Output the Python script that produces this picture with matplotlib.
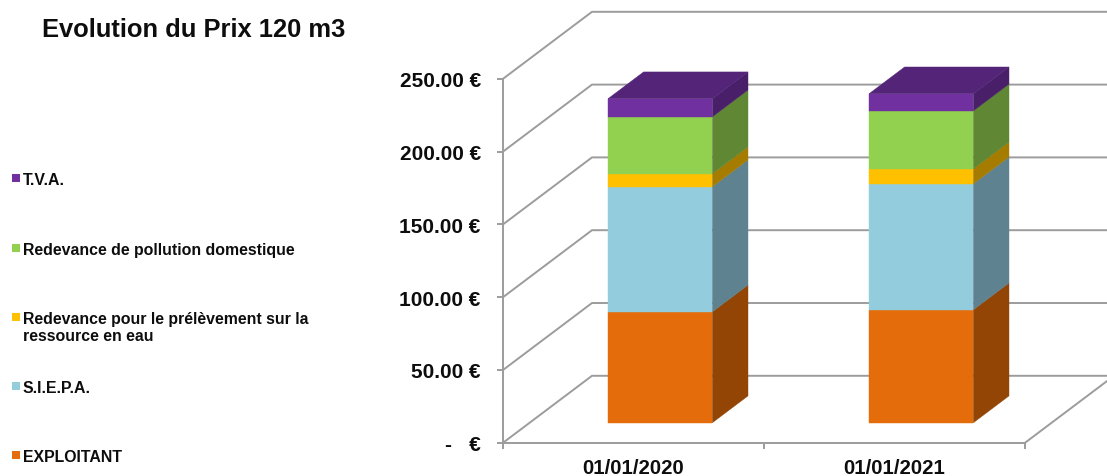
#!/usr/bin/env python3
#
# Evolution du Prix 120 m3 -- stacked columns with an Excel style 3D look
#

import matplotlib
matplotlib.use('Agg')
import matplotlib.pyplot as plt
from matplotlib.patches import Rectangle

dates = ['01/01/2020', '01/01/2021']
exploitant = [76.2, 77.6]
siepa = [85.9, 86.5]
prelevement = [8.9, 10.3]
pollution = [39.1, 39.8]
tva = [12.4, 11.7]

series_names = ['EXPLOITANT', 'S.I.E.P.A.',
                'Redevance pour le prélèvement sur la\nressource en eau',
                'Redevance de pollution domestique', 'T.V.A.']
series_values = [exploitant, siepa, prelevement, pollution, tva]
y_ticks = [0, 50, 100, 150, 200, 250]
y_labels = ['-   €', '50.00 €', '100.00 €', '150.00 €', '200.00 €', '250.00 €']

front_colors = ['#E46C0A', '#93CDDD', '#FFC000', '#92D050', '#7030A0']
side_colors = ['#934506', '#5E8290', '#A67C00', '#5F8734', '#481F68']
top_color = '#542479'
grid_color = '#9C9C9C'
text_color = '#0D0D0D'

W, H = 1107, 477
X0, Y0 = 503, 443.8      # pixel of the chart origin
CAT_PX = 261             # pixels per category
VAL_PX = 1.456           # pixels per euro
DEPTH_X = 89 / CAT_PX    # floor depth in category units
DEPTH_Y = 67 / VAL_PX    # floor depth in euros
BAR_X = (0.3, 0.7)       # bar extent inside a category
BAR_D = (0.3, 0.7)       # bar extent along the depth
LINE_W = 1.4

plt.rcParams['font.family'] = ['Liberation Sans', 'DejaVu Sans']
plt.rcParams['font.weight'] = 'bold'


def project(x, y, d):
    return x + d * DEPTH_X, y + d * DEPTH_Y


def draw_face(ax, corners, color, zorder=3):
    xs, ys = zip(*[project(*c) for c in corners])
    ax.fill(xs, ys, color=color, lw=0.3, zorder=zorder)


def draw_walls(ax):
    right = len(dates)
    for val in y_ticks:
        xs, ys = zip(project(0, val, 0), project(0, val, 1), project(right, val, 1))
        ax.plot(xs, ys, color=grid_color, lw=LINE_W, zorder=1, solid_joinstyle='miter')
    xs, ys = zip(project(right, 0, 0), project(right, 0, 1))
    ax.plot(xs, ys, color=grid_color, lw=LINE_W, zorder=1)


def draw_bars(ax):
    for i in range(len(dates)):
        left, right = i + BAR_X[0], i + BAR_X[1]
        front, back = BAR_D
        base = 0
        for values, fc, sc in zip(series_values, front_colors, side_colors):
            top = base + values[i]
            draw_face(ax, [(left, base, front), (right, base, front),
                           (right, top, front), (left, top, front)], fc)
            draw_face(ax, [(right, base, front), (right, base, back),
                           (right, top, back), (right, top, front)], sc)
            base = top
        draw_face(ax, [(left, base, front), (right, base, front),
                       (right, base, back), (left, base, back)], top_color)


def draw_legend(fig):
    centers = [456, 387, 318, 249, 179]
    for name, color, cy in zip(series_names, front_colors, centers):
        fig.add_artist(Rectangle((12 / W, 1 - (cy + 4) / H), 8 / W, 8 / H,
                                 transform=fig.transFigure, color=color, lw=0))
        fig.text(23 / W, 1 - (cy - 6) / H, name, fontsize=11.4, va='top',
                 ha='left', color=text_color, linespacing=1.2)


def main():
    fig = plt.figure(figsize=(W / 100, H / 100), dpi=100)
    ax = fig.add_axes([0, 0, 1, 1])
    ax.set_xlim(-X0 / CAT_PX, (W - X0) / CAT_PX)
    ax.set_ylim((Y0 - H) / VAL_PX, Y0 / VAL_PX)
    ax.patch.set_visible(False)

    draw_walls(ax)
    draw_bars(ax)

    for side in ['top', 'right']:
        ax.spines[side].set_visible(False)
    ax.spines['left'].set_position(('data', 0))
    ax.spines['bottom'].set_position(('data', 0))
    ax.spines['left'].set_bounds(0, y_ticks[-1])
    ax.spines['bottom'].set_bounds(0, len(dates))
    for side in ['left', 'bottom']:
        ax.spines[side].set_color(grid_color)
        ax.spines[side].set_linewidth(LINE_W)
        ax.spines[side].set_zorder(2)

    ax.set_yticks(y_ticks)
    ax.set_yticklabels(y_labels)
    ax.tick_params(axis='y', length=4, width=LINE_W, color=grid_color, pad=12,
                   labelsize=15, labelcolor=text_color)
    ax.set_xticks(range(len(dates) + 1))
    ax.set_xticklabels([])
    ax.set_xticks([i + 0.5 for i in range(len(dates))], labels=dates, minor=True)
    ax.tick_params(axis='x', which='major', length=4, width=LINE_W, color=grid_color)
    ax.tick_params(axis='x', which='minor', length=0, pad=11, labelsize=14.7,
                   labelcolor=text_color)

    fig.text(42 / W, 1 - 30 / H, 'Evolution du Prix 120 m3', fontsize=18.4,
             va='center', ha='left', color=text_color)
    draw_legend(fig)

    fig.savefig('out.png', dpi=100)


if __name__ == "__main__":
    main()
